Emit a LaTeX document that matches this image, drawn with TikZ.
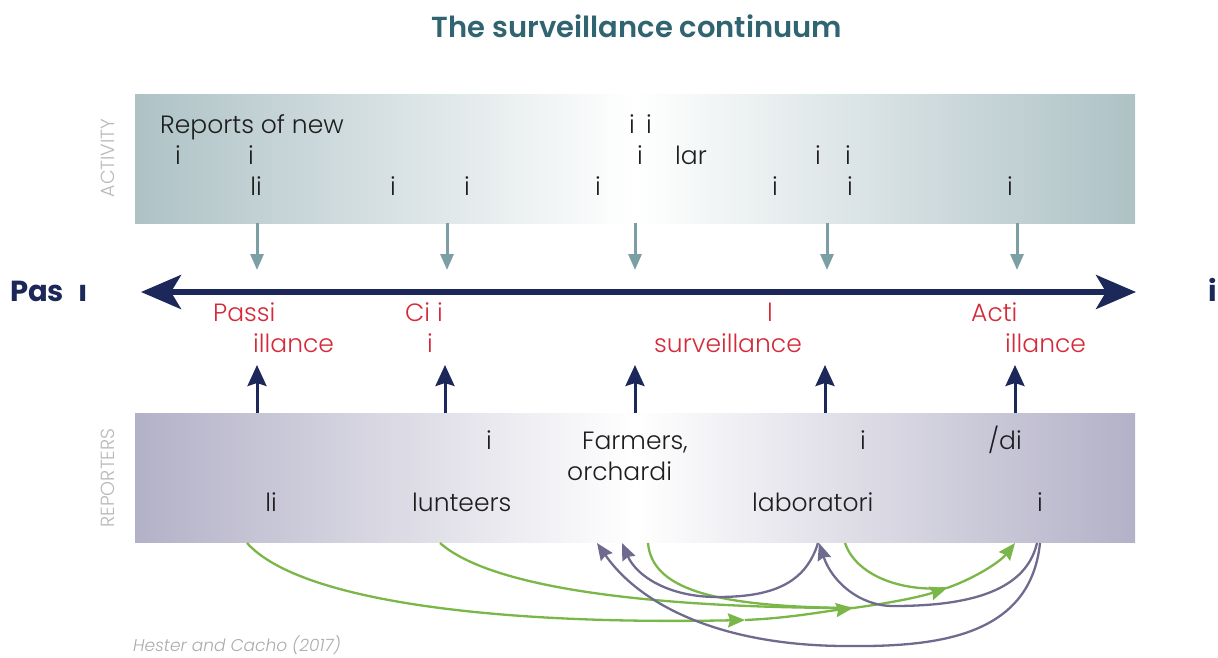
\documentclass[tikz,border=0pt]{standalone}
\usepackage{fontspec}
\setmainfont{Poppins}[UprightFont=* Light, ItalicFont=* Light Italic, BoldFont=* SemiBold]
\newfontfamily\heavyfont{Poppins}[UprightFont=* Bold]
\newfontfamily\semifont{Poppins}[UprightFont=* SemiBold]
\usetikzlibrary{arrows.meta}
\definecolor{titleteal}{HTML}{2F6470}
\definecolor{navy}{HTML}{1B2859}
\definecolor{tealarrow}{HTML}{7B9FA4}
\definecolor{redlab}{HTML}{D42A3A}
\definecolor{actc}{HTML}{AEC2C6}
\definecolor{repc}{HTML}{B3B1C7}
\definecolor{grn}{HTML}{7AB648}
\definecolor{purp}{HTML}{6E6B8F}
\definecolor{sidegray}{HTML}{B8B8B8}
\definecolor{citegray}{HTML}{ABABAB}
\definecolor{bodyblack}{HTML}{1E1E1E}
\tikzset{
  body/.style={font=\fontsize{25}{30}\selectfont, text=bodyblack, inner sep=0pt},
  bw/.style={body, anchor=base west},
  bc/.style={body, anchor=base},
  rw/.style={bw, text=redlab},
  rc/.style={bc, text=redlab},
  side/.style={font=\fontsize{19}{22}\selectfont, text=sidegray, rotate=90, inner sep=0pt},
  band/.style={draw=none, minimum width=1000pt, minimum height=129pt, inner sep=0pt},
  teala/.style={draw=tealarrow, line width=3pt, -{Triangle[length=16pt,width=13pt]}, tealarrow},
  navya/.style={draw=navy, line width=3pt, -{Stealth[length=21pt,width=19pt,inset=3pt]}, navy},
  grnc/.style={draw=grn, line width=2.3pt},
  grna/.style={grnc, -{Stealth[length=17pt,width=14pt,inset=2pt]}, fill=none},
  purpa/.style={draw=purp, line width=2.3pt, -{Stealth[length=17pt,width=14pt,inset=2pt]}},
}
\begin{document}
\begin{tikzpicture}[x=1pt,y=-1pt]
\useasboundingbox (0,0) rectangle (1218,657);

% title
\node[font=\semifont\fontsize{29}{34}\selectfont, text=titleteal, anchor=base, inner sep=0pt] (title) at (637,37) {The surveillance continuum};

% bands
\node[band, left color=actc, right color=actc, middle color=white] (act) at (635,158.5) {};
\node[band, left color=repc, right color=repc, middle color=white] (rep) at (635,477.5) {};

% side labels
\node[side] (sideA) at (108,158) {ACTIVITY};
\node[side] (sideR) at (108,478) {REPORTERS};

% activity texts
\node[bw] (a1) at (160,133) {Reports of new};
\node[bc] (a2) at (632,133) {i};
\node[bc] (a3) at (649,133) {i};
\node[bc] (a4) at (178,164) {i};
\node[bc] (a5) at (251,164) {i};
\node[bc] (a6) at (640,164) {i};
\node[bw] (a7) at (675,164) {lar};
\node[bc] (a8) at (818,164) {i};
\node[bc] (a9) at (848,164) {i};
\node[bc] (a10) at (256,195) {li};
\node[bc] (a11) at (393,195) {i};
\node[bc] (a12) at (467,195) {i};
\node[bc] (a13) at (598,195) {i};
\node[bc] (a14) at (775,195) {i};
\node[bc] (a15) at (850,195) {i};
\node[bc] (a16) at (1010,195) {i};

% reporters texts
\node[bc] (p1) at (489,449) {i};
\node[bw] (p2) at (582,449) {Farmers,};
\node[bc] (p3) at (863,449) {i};
\node[bw] (p4) at (988,449) {/di};
\node[bw] (p5) at (567,480) {orchardi};
\node[bc] (p6) at (271,511) {li};
\node[bw] (p7) at (412,511) {lunteers};
\node[bw] (p8) at (752,511) {laboratori};
\node[bc] (p9) at (1040,511) {i};

% red labels
\node[rw] (s1) at (213,321) {Passi};
\node[rw] (s2) at (253,352) {illance};
\node[rw] (s3) at (405,321) {Ci\hspace{7pt}i};
\node[rc] (s4) at (430,352) {i};
\node[rc] (s5) at (770,321) {l};
\node[rw] (s6) at (654,352) {surveillance};
\node[rw] (s7) at (971,321) {Acti};
\node[rw] (s8) at (1005,352) {illance};

% end labels
\node[font=\heavyfont\fontsize{29}{34}\selectfont, text=navy, anchor=base west, inner sep=0pt] (pas) at (10,301) {Pas\hspace{14pt}ı};
\node[font=\heavyfont\fontsize{29}{34}\selectfont, text=navy, anchor=base west, inner sep=0pt] (act2) at (1208,301) {i};

% main axis
\coordinate (mL) at (141,292);
\coordinate (mR) at (1136,292);
\draw[navy, line width=5.5pt, {Stealth[length=40pt,width=34pt,inset=10pt]}-{Stealth[length=40pt,width=34pt,inset=10pt]}] (mL) -- (mR);

% teal arrows (activity -> axis)
\foreach \x [count=\i] in {257,447,635,827,1017} {
  \coordinate (ta\i) at (\x,223);
  \coordinate (tb\i) at (\x,270);
  \draw[teala] (ta\i) -- (tb\i);
}
% navy arrows (reporters -> axis)
\foreach \x [count=\i] in {257,445,635,825,1015} {
  \coordinate (na\i) at (\x,413);
  \coordinate (nb\i) at (\x,365);
  \draw[navya] (na\i) -- (nb\i);
}

% green flows
\coordinate (g1s) at (247,543);
\coordinate (g2s) at (440,543);
\coordinate (g3s) at (648,543);
\coordinate (g4s) at (845,543);
\coordinate (j1) at (745,620);
\coordinate (j2) at (853,608);
\coordinate (j3) at (947,588);
\coordinate (gend) at (1015,543);
\draw[grnc] (g2s) .. controls (500,596) and (700,608) .. (j2);
\draw[grnc] (g3s) .. controls (652,588) and (710,607) .. (j2);
\draw[grnc] (g4s) .. controls (856,575) and (900,592) .. (j3);
\draw[grna] (g1s) .. controls (300,602) and (500,625) .. (j1);
\draw[grna] (j1) .. controls (790,618) and (820,612) .. (j2);
\draw[grna] (j2) .. controls (890,603) and (920,597) .. (j3);
\draw[grna] (j3) .. controls (975,578) and (1000,562) .. (gend);

% purple flows
\coordinate (q1s) at (1040,543);
\coordinate (q1m) at (843,646);
\coordinate (q1e) at (597,543);
\coordinate (q2s) at (1037,543);
\coordinate (q2m) at (893,606);
\coordinate (q2e) at (819,543);
\coordinate (q3s) at (818,543);
\coordinate (q3m) at (717,597);
\coordinate (q3e) at (622,543);
\draw[purpa] (q1s) .. controls (1030,640) and (930,647) .. (q1m) .. controls (720,645) and (640,605) .. (q1e);
\draw[purpa] (q2s) .. controls (1025,595) and (960,606) .. (q2m) .. controls (860,606) and (832,582) .. (q2e);
\draw[purpa] (q3s) .. controls (805,585) and (770,597) .. (q3m) .. controls (670,597) and (637,577) .. (q3e);

% citation
\node[font=\itshape\fontsize{17}{20}\selectfont, text=citegray, anchor=base west, inner sep=0pt] (cite) at (133,651) {Hester and Cacho (2017)};
\end{tikzpicture}
\end{document}
